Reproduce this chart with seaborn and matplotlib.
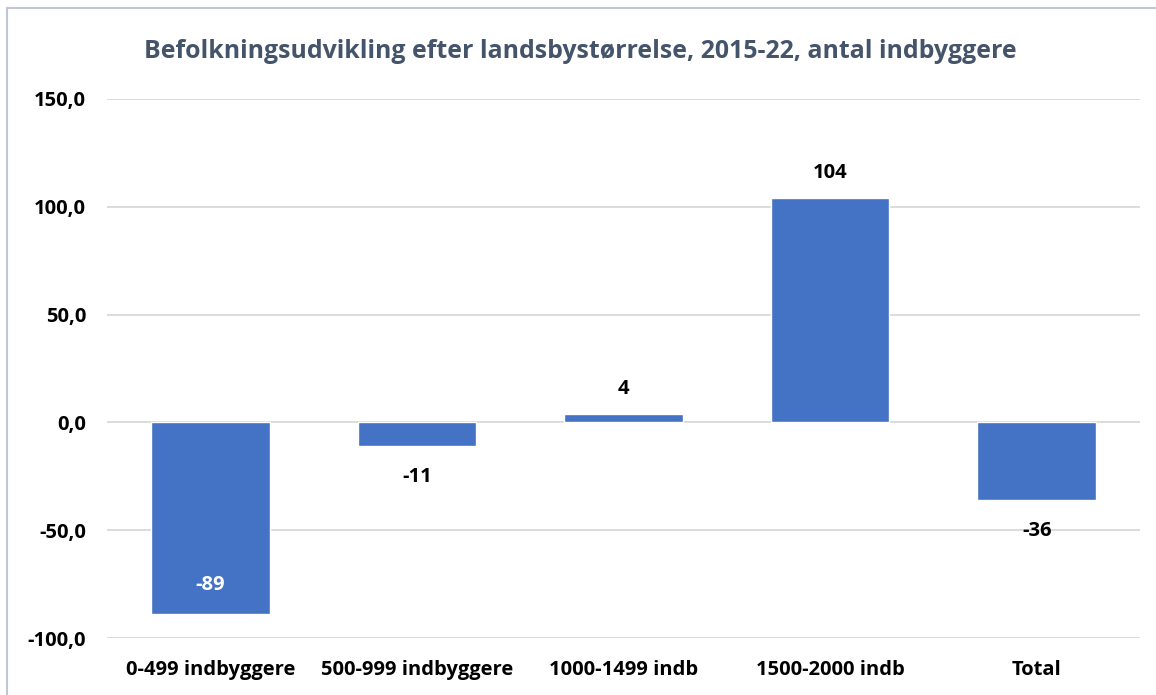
import matplotlib
matplotlib.use("Agg")
import matplotlib.pyplot as plt
import seaborn as sns
import pandas as pd
from matplotlib.patches import Rectangle

categories = ["0-499 indbyggere", "500-999 indbyggere", "1000-1499 indb", "1500-2000 indb", "Total"]
values = [-89, -11, 4, 104, -36]
y_ticks = [-100, -50, 0, 50, 100, 150]

TITLE = "Befolkningsudvikling efter landsbystørrelse, 2015-22, antal indbyggere"
BAR_COLOR = "#4472C4"

sns.set_theme(style="white")
plt.rcParams["font.family"] = ["Open Sans", "DejaVu Sans"]

df = pd.DataFrame({"kategori": categories, "vaerdi": values})

fig = plt.figure(figsize=(11.56, 6.95), dpi=100)
ax = fig.add_axes([0.0926, 0.082, 0.8935, 0.7756])

sns.barplot(data=df, x="kategori", y="vaerdi", color=BAR_COLOR, saturation=1,
            width=0.575, ax=ax, zorder=3)

FS = 14.5
ax.set_ylim(-100, 150)
ax.set_yticks(y_ticks)
ax.set_yticklabels([f"{t:.1f}".replace(".", ",") for t in y_ticks],
                   fontsize=FS, fontweight="bold", color="black")
ax.set_xticks(range(len(categories)))
ax.set_xticklabels(categories, fontsize=FS, fontweight="bold", color="black")
ax.tick_params(axis="both", length=0)
ax.tick_params(axis="y", pad=15)
ax.tick_params(axis="x", pad=16)
ax.set_xlabel("")
ax.set_ylabel("")
ax.yaxis.grid(True, color="#D9D9D9", linewidth=1.3, zorder=0)
ax.set_axisbelow(True)
for s in ax.spines.values():
    s.set_visible(False)

# data labels
for i, v in enumerate(values):
    if v < -60:
        ax.text(i, v + 13.5, f"{v}", ha="center", va="center", fontsize=FS,
                fontweight="bold", color="white", zorder=4)
    elif v < 0:
        ax.text(i, v - 14.5, f"{v}", ha="center", va="center", fontsize=FS,
                fontweight="bold", color="black", zorder=4)
    else:
        ax.text(i, v + 11.5, f"{v}", ha="center", va="center", fontsize=FS,
                fontweight="bold", color="black", zorder=4)

fig.text(0.502, 0.926, TITLE, ha="center", va="center", fontsize=17.9,
         fontweight="bold", color="#44546A")

# chart frame
fig.patches.append(Rectangle((7 / 1156, -0.01), 1.02, 1 - 8 / 695 + 0.01,
                             transform=fig.transFigure, fill=False,
                             edgecolor="#BFC8D6", linewidth=1.5))

fig.savefig("out.png", dpi=100)
